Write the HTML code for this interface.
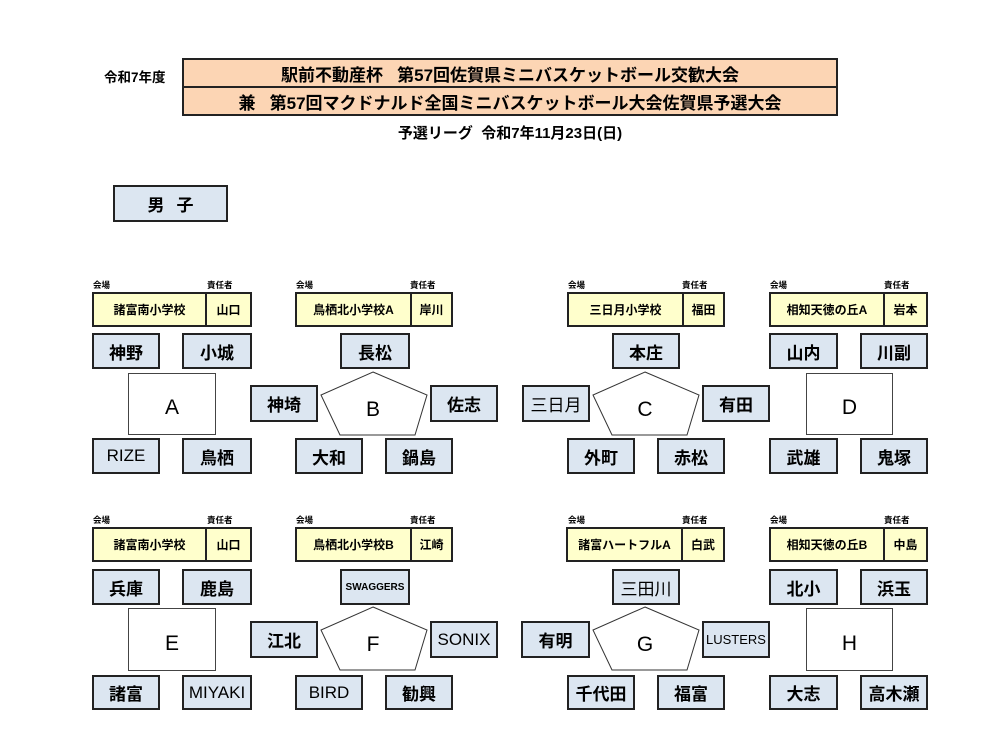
<!DOCTYPE html>
<html><head><meta charset="utf-8"><style>
*{margin:0;padding:0;box-sizing:border-box}
body{width:988px;height:741px;background:#fff;position:relative;overflow:hidden;font-family:"Liberation Sans","Noto Sans CJK JP",sans-serif;color:#000}
.a{position:absolute}
.t{position:absolute;border:2px solid #222;background:#dce6f1;display:flex;align-items:center;justify-content:center;font-weight:bold;font-size:17px;white-space:nowrap}
.v{position:absolute;border:2px solid #222;background:#ffffcc;display:flex;font-weight:bold;font-size:12px;height:35px}
.v div{display:flex;align-items:center;justify-content:center;height:100%}
.v .r{border-left:2px solid #222}
.lb{position:absolute;font-size:8.5px;font-weight:bold;line-height:8px}
.sq{position:absolute;border:1px solid #444;background:#fff;display:flex;align-items:center;justify-content:center;font-size:21px;padding-top:8px}
.L{position:absolute;font-size:21px;width:40px;text-align:center}
</style></head><body>
<div class="a" style="left:104px;top:66px;font-size:13.5px;font-weight:bold">令和7年度</div>
<div class="a" style="left:182px;top:58px;width:656px;height:58px;background:#fcd5b4;border:2px solid #222"></div>
<div class="a" style="left:182px;top:86px;width:656px;height:2px;background:#222"></div>
<div class="a" style="left:184px;top:60px;width:652px;height:26px;display:flex;align-items:center;justify-content:center;font-size:17px;font-weight:bold">駅前不動産杯&nbsp;&nbsp;&nbsp;第57回佐賀県ミニバスケットボール交歓大会</div>
<div class="a" style="left:184px;top:88px;width:652px;height:26px;display:flex;align-items:center;justify-content:center;font-size:17px;font-weight:bold">兼&nbsp;&nbsp;&nbsp;第57回マクドナルド全国ミニバスケットボール大会佐賀県予選大会</div>
<div class="a" style="left:340px;top:122px;width:340px;text-align:center;font-size:15px;font-weight:bold">予選リーグ&nbsp;&nbsp;令和7年11月23日(日)</div>
<div class="a" style="left:113px;top:185px;width:115px;height:37px;border:2px solid #222;background:#dce6f1;display:flex;align-items:center;justify-content:center;font-size:17px;font-weight:bold;letter-spacing:12px;padding-left:12px">男子</div>

<svg class="a" style="left:0;top:0" width="988" height="741">
<g fill="#fff" stroke="#333" stroke-width="1">
<polygon points="373,372 427,395 415,435 340,435 321,395"/>
<polygon points="645,372 699,395 687,435 612,435 593,395"/>
<polygon points="373,607 427,630 415,670 340,670 321,630"/>
<polygon points="645,607 699,630 687,670 612,670 593,630"/>
</g></svg>

<!-- A -->
<div class="lb" style="left:93px;top:281px">会場</div><div class="lb" style="left:207px;top:281px">責任者</div>
<div class="v" style="left:92px;top:292px;width:160px"><div style="width:111px">諸富南小学校</div><div class="r" style="width:45px">山口</div></div>
<div class="t" style="left:92px;top:333px;width:68px;height:36px">神野</div>
<div class="t" style="left:182px;top:333px;width:70px;height:36px">小城</div>
<div class="sq" style="left:128px;top:373px;width:88px;height:62px">A</div>
<div class="t" style="left:92px;top:438px;width:68px;height:36px;font-weight:normal">RIZE</div>
<div class="t" style="left:182px;top:438px;width:70px;height:36px">鳥栖</div>
<!-- B -->
<div class="lb" style="left:296px;top:281px">会場</div><div class="lb" style="left:410px;top:281px">責任者</div>
<div class="v" style="left:295px;top:292px;width:158px"><div style="width:113px">鳥栖北小学校A</div><div class="r" style="width:41px">岸川</div></div>
<div class="t" style="left:340px;top:333px;width:70px;height:36px">長松</div>
<div class="t" style="left:250px;top:385px;width:68px;height:37px">神埼</div>
<div class="t" style="left:430px;top:385px;width:68px;height:37px">佐志</div>
<div class="L" style="left:353px;top:398px">B</div>
<div class="t" style="left:295px;top:438px;width:68px;height:36px">大和</div>
<div class="t" style="left:385px;top:438px;width:68px;height:36px">鍋島</div>
<!-- C -->
<div class="lb" style="left:568px;top:281px">会場</div><div class="lb" style="left:682px;top:281px">責任者</div>
<div class="v" style="left:567px;top:292px;width:158px"><div style="width:113px">三日月小学校</div><div class="r" style="width:41px">福田</div></div>
<div class="t" style="left:612px;top:333px;width:68px;height:36px">本庄</div>
<div class="t" style="left:522px;top:385px;width:68px;height:37px;font-weight:normal">三日月</div>
<div class="t" style="left:702px;top:385px;width:68px;height:37px">有田</div>
<div class="L" style="left:625px;top:398px">C</div>
<div class="t" style="left:567px;top:438px;width:68px;height:36px">外町</div>
<div class="t" style="left:657px;top:438px;width:68px;height:36px">赤松</div>
<!-- D -->
<div class="lb" style="left:770px;top:281px">会場</div><div class="lb" style="left:884px;top:281px">責任者</div>
<div class="v" style="left:769px;top:292px;width:159px"><div style="width:112px">相知天徳の丘A</div><div class="r" style="width:43px">岩本</div></div>
<div class="t" style="left:769px;top:333px;width:69px;height:36px">山内</div>
<div class="t" style="left:860px;top:333px;width:68px;height:36px">川副</div>
<div class="sq" style="left:806px;top:373px;width:87px;height:62px">D</div>
<div class="t" style="left:769px;top:438px;width:69px;height:36px">武雄</div>
<div class="t" style="left:860px;top:438px;width:68px;height:36px">鬼塚</div>

<!-- E -->
<div class="lb" style="left:93px;top:516px">会場</div><div class="lb" style="left:207px;top:516px">責任者</div>
<div class="v" style="left:92px;top:527px;width:160px"><div style="width:111px">諸富南小学校</div><div class="r" style="width:45px">山口</div></div>
<div class="t" style="left:92px;top:569px;width:68px;height:36px">兵庫</div>
<div class="t" style="left:182px;top:569px;width:70px;height:36px">鹿島</div>
<div class="sq" style="left:128px;top:608px;width:88px;height:63px">E</div>
<div class="t" style="left:92px;top:675px;width:68px;height:35px">諸富</div>
<div class="t" style="left:182px;top:675px;width:70px;height:35px;font-weight:normal">MIYAKI</div>
<!-- F -->
<div class="lb" style="left:296px;top:516px">会場</div><div class="lb" style="left:410px;top:516px">責任者</div>
<div class="v" style="left:295px;top:527px;width:158px"><div style="width:113px">鳥栖北小学校B</div><div class="r" style="width:41px">江崎</div></div>
<div class="t" style="left:340px;top:569px;width:70px;height:36px;font-size:10px">SWAGGERS</div>
<div class="t" style="left:250px;top:621px;width:68px;height:37px">江北</div>
<div class="t" style="left:430px;top:621px;width:68px;height:37px;font-weight:normal">SONIX</div>
<div class="L" style="left:353px;top:633px">F</div>
<div class="t" style="left:295px;top:675px;width:68px;height:35px;font-weight:normal">BIRD</div>
<div class="t" style="left:385px;top:675px;width:68px;height:35px">勧興</div>
<!-- G -->
<div class="lb" style="left:568px;top:516px">会場</div><div class="lb" style="left:682px;top:516px">責任者</div>
<div class="v" style="left:566px;top:527px;width:159px"><div style="width:113px">諸富ハートフルA</div><div class="r" style="width:42px">白武</div></div>
<div class="t" style="left:612px;top:569px;width:68px;height:36px;font-weight:normal">三田川</div>
<div class="t" style="left:521px;top:621px;width:69px;height:37px">有明</div>
<div class="t" style="left:702px;top:621px;width:68px;height:37px;font-size:13px;font-weight:normal">LUSTERS</div>
<div class="L" style="left:625px;top:633px">G</div>
<div class="t" style="left:567px;top:675px;width:68px;height:35px">千代田</div>
<div class="t" style="left:657px;top:675px;width:68px;height:35px">福富</div>
<!-- H -->
<div class="lb" style="left:770px;top:516px">会場</div><div class="lb" style="left:884px;top:516px">責任者</div>
<div class="v" style="left:769px;top:527px;width:159px"><div style="width:112px">相知天徳の丘B</div><div class="r" style="width:43px">中島</div></div>
<div class="t" style="left:769px;top:569px;width:69px;height:36px">北小</div>
<div class="t" style="left:860px;top:569px;width:68px;height:36px">浜玉</div>
<div class="sq" style="left:806px;top:608px;width:87px;height:63px">H</div>
<div class="t" style="left:769px;top:675px;width:69px;height:35px">大志</div>
<div class="t" style="left:860px;top:675px;width:68px;height:35px">高木瀬</div>
</body></html>
